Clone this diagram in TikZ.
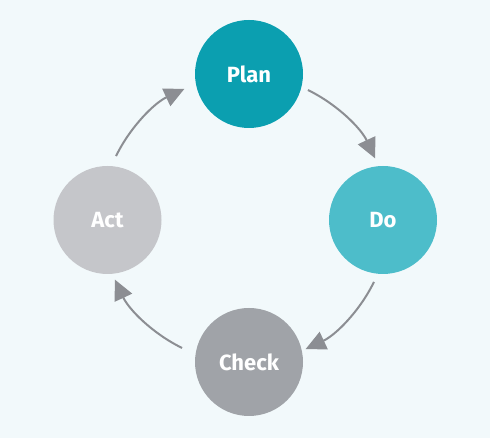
\documentclass[tikz,border=0pt]{standalone}
\usepackage{fontspec}
\setmainfont{Fira Sans}
\usetikzlibrary{arrows.meta}
\definecolor{bgc}{HTML}{F2F9FB}
\definecolor{planc}{HTML}{0B9FB0}
\definecolor{doc}{HTML}{4DBDCA}
\definecolor{checkc}{HTML}{A0A3A8}
\definecolor{actc}{HTML}{C5C6CA}
\definecolor{arrc}{HTML}{8C8E93}
\tikzset{
  stage/.style={circle, minimum size=108pt, inner sep=0pt, text=white,
    font=\fontsize{22}{26}\selectfont\bfseries},
  cyc/.style={draw=arrc, line width=2pt, -{Triangle[length=20pt,width=19pt]}}
}
\begin{document}
\begin{tikzpicture}[x=1pt,y=1pt]
\fill[bgc] (0,0) rectangle (490,438);
\useasboundingbox (0,0) rectangle (490,438);
\coordinate (C) at (245,219);
\node[stage, fill=planc] (plan) at (249,364) {Plan};
\node[stage, fill=doc] (do) at (383,218) {Do};
\node[stage, fill=checkc] (check) at (249,76) {Check};
\node[stage, fill=actc] (act) at (107.5,218) {Act};
\coordinate (s1) at ([shift={(64:143.5)}]C);
\coordinate (s2) at ([shift={(-26:143.5)}]C);
\coordinate (s3) at ([shift={(-116:143.5)}]C);
\coordinate (s4) at ([shift={(154:143.5)}]C);
\draw[cyc] (s1) arc[start angle=64, end angle=25, radius=143.5pt];
\draw[cyc] (s2) arc[start angle=-26, end angle=-65, radius=143.5pt];
\draw[cyc] (s3) arc[start angle=-116, end angle=-155, radius=143.5pt];
\draw[cyc] (s4) arc[start angle=154, end angle=115, radius=143.5pt];
\end{tikzpicture}
\end{document}
